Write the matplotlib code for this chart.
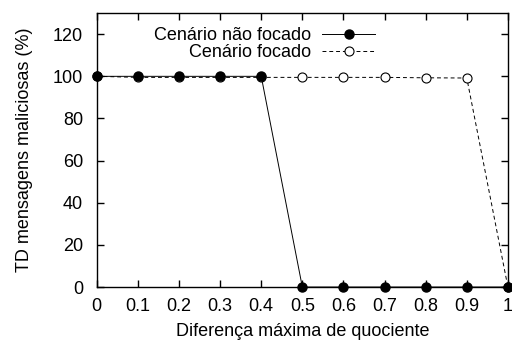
import matplotlib
matplotlib.use('Agg')
import matplotlib.pyplot as plt

plt.rcParams['font.family'] = ['Liberation Sans', 'DejaVu Sans']

# dados
x = [0, 0.1, 0.2, 0.3, 0.4, 0.5, 0.6, 0.7, 0.8, 0.9, 1.0]
nao_focado = [100, 100, 100, 100, 100, 0, 0, 0, 0, 0, 0]
focado = [100, 99.5, 99.5, 99.5, 99.5, 99.5, 99.5, 99.5, 99.3, 99.2, 0]
xticks = [0, 0.1, 0.2, 0.3, 0.4, 0.5, 0.6, 0.7, 0.8, 0.9, 1]
xlabels = ['0', '0.1', '0.2', '0.3', '0.4', '0.5', '0.6', '0.7', '0.8', '0.9', '1']
yticks = [0, 20, 40, 60, 80, 100, 120]

fig = plt.figure(figsize=(5.12, 3.45), dpi=100)
ax = fig.add_axes([0.189, 0.168, 0.803, 0.794])

ax.plot(x, focado, color='black', linestyle='--', dashes=(4, 3), linewidth=0.7,
        marker='o', markersize=6.5, markerfacecolor='white', markeredgewidth=0.8,
        label='Cenário focado', clip_on=False, zorder=3)
ax.plot(x, nao_focado, color='black', linestyle='-', linewidth=0.7,
        marker='o', markersize=6.5, markerfacecolor='black',
        label='Cenário não focado', clip_on=False, zorder=4)

ax.set_xlim(0, 1)
ax.set_ylim(0, 130)
ax.set_xticks(xticks)
ax.set_xticklabels(xlabels)
ax.set_yticks(yticks)
ax.tick_params(direction='in', top=True, right=True, labelsize=13, length=5, width=1)
ax.tick_params(axis='x', pad=8)
ax.tick_params(axis='y', pad=10)
for s in ax.spines.values():
    s.set_linewidth(1)

ax.set_xlabel('Diferença máxima de quociente', fontsize=13, labelpad=6)
ax.set_ylabel('TD mensagens maliciosas (%)', fontsize=13, labelpad=14)

h, l = ax.get_legend_handles_labels()
leg = ax.legend(h[::-1], l[::-1], loc='upper right', bbox_to_anchor=(0.685, 0.963), frameon=False,
                markerfirst=False, fontsize=13, handlelength=2.9, handletextpad=0.6,
                labelspacing=0.0, borderaxespad=0.0, borderpad=0.2)
# alinhar texto da legenda à direita
for t in leg.get_texts():
    t.set_ha('right')

fig.savefig('out.png', dpi=100)
